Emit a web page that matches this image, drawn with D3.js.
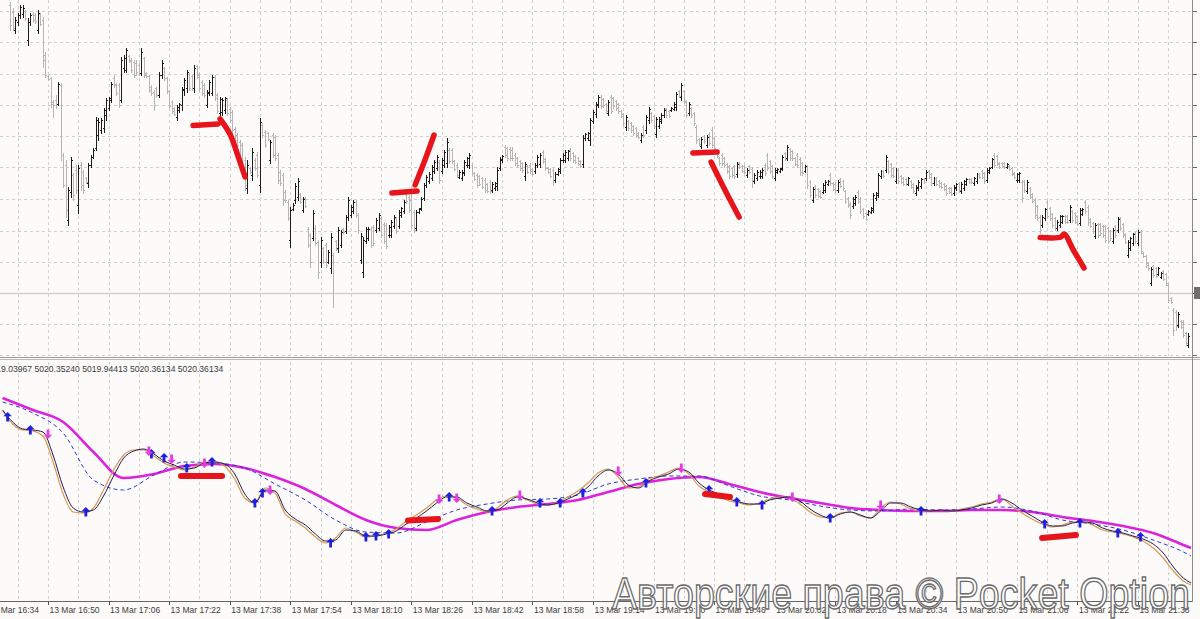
<!DOCTYPE html>
<html><head><meta charset="utf-8">
<script src="https://cdn.jsdelivr.net/npm/d3@7"></script>
<style>html,body{margin:0;padding:0;background:#fcfbfa;overflow:hidden}svg{display:block}</style>
</head><body><svg id="c" width="1200" height="619"></svg>
<script>
// ---------- DATA ----------
const FIRST_BAR = 3; // index of first bar in the arrays below
const opens = [5023.95,5023.88,5023.70,5023.78,5023.85,5023.86,5023.89,5023.60,5023.78,5023.86,5023.85,5023.70,5023.86,5023.80,5023.45,5023.24,5023.22,5022.98,5023.00,5022.96,5023.15,5022.45,5022.35,5021.80,5022.08,5022.25,5022.30,5021.95,5022.35,5022.28,5022.22,5022.17,5022.35,5022.43,5022.52,5022.65,5022.70,5022.72,5022.85,5022.92,5023.00,5023.22,5023.16,5023.15,5023.00,5023.32,5023.30,5023.44,5023.40,5023.38,5023.37,5023.35,5023.27,5023.42,5023.27,5023.24,5023.13,5023.08,5023.12,5023.05,5023.25,5023.32,5023.22,5023.09,5022.98,5022.92,5022.83,5022.90,5022.95,5023.10,5023.12,5023.26,5023.24,5023.12,5023.34,5023.25,5023.18,5023.15,5022.95,5023.07,5023.07,5023.23,5023.05,5022.87,5022.88,5022.90,5023.00,5022.91,5022.88,5022.71,5022.65,5022.58,5022.55,5022.40,5022.12,5022.32,5022.25,5022.40,5022.45,5022.15,5022.75,5022.68,5022.67,5022.40,5022.65,5022.63,5022.45,5022.28,5022.25,5022.08,5021.98,5021.60,5021.91,5022.00,5022.03,5022.06,5021.90,5022.02,5021.71,5021.65,5021.62,5021.72,5021.58,5021.38,5021.52,5021.55,5021.38,5021.32,5021.45,5021.59,5021.52,5021.55,5021.71,5021.69,5021.83,5021.85,5021.89,5021.98,5021.85,5021.40,5021.28,5021.59,5021.62,5021.71,5021.73,5021.70,5021.72,5021.82,5021.76,5021.75,5021.65,5021.65,5021.74,5021.82,
5021.74,5021.85,5021.89,5022.06,5022.03,5022.00,5021.88,5021.72,5021.88,5021.92,5022.02,5022.15,5022.19,5022.22,5022.29,5022.32,5022.38,5022.29,5022.35,5022.37,5022.50,5022.50,5022.39,5022.35,5022.23,5022.22,5022.27,5022.35,5022.35,5022.35,5022.27,5022.25,5022.24,5022.22,5022.20,5022.16,5022.18,5022.10,5022.12,5022.14,5022.32,5022.40,5022.53,5022.52,5022.51,5022.50,5022.45,5022.42,5022.39,5022.37,5022.24,5022.34,5022.35,5022.31,5022.29,5022.35,5022.36,5022.48,5022.41,5022.32,5022.31,5022.30,5022.20,5022.26,5022.29,5022.40,5022.40,5022.42,5022.50,5022.47,5022.44,5022.42,5022.39,5022.36,5022.62,5022.62,5022.60,5022.79,5022.86,5022.95,5023.03,5023.01,5022.96,5022.87,5023.03,5023.02,5022.99,5022.96,5022.89,5022.86,5022.73,5022.79,5022.77,5022.74,5022.72,5022.67,5022.60,5022.73,5022.70,5022.80,5022.87,5022.84,5022.66,5022.74,5022.79,5022.85,5022.91,5022.89,5022.90,5022.91,5022.93,5023.09,5023.03,5023.09,5022.98,5022.87,5022.92,5022.87,5022.73,5022.61,5022.54,5022.64,5022.55,5022.66,5022.70,5022.62,5022.49,5022.42,5022.45,5022.42,5022.36,5022.34,5022.32,5022.34,5022.26,5022.37,5022.34,5022.34,5022.25,5022.34,5022.31,5022.19,5022.22,5022.24,5022.24,5022.35,5022.45,5022.39,5022.34,5022.22,5022.28,5022.29,5022.32,5022.47,5022.42,5022.51,5022.49,5022.42,5022.45,
5022.41,5022.37,5022.29,5022.33,5022.18,5022.00,5022.14,5022.11,5022.09,5022.08,5022.10,5022.16,5022.25,5022.17,5022.16,5022.10,5022.21,5022.19,5022.09,5022.02,5021.96,5021.94,5021.97,5022.08,5022.01,5021.91,5021.87,5021.86,5021.88,5021.90,5022.02,5022.05,5022.24,5022.29,5022.30,5022.39,5022.36,5022.32,5022.19,5022.30,5022.24,5022.22,5022.21,5022.16,5022.19,5022.16,5022.07,5022.12,5022.14,5022.21,5022.22,5022.29,5022.26,5022.17,5022.22,5022.19,5022.17,5022.16,5022.14,5022.12,5022.12,5022.07,5022.12,5022.17,5022.09,5022.12,5022.16,5022.21,5022.21,5022.17,5022.19,5022.26,5022.29,5022.27,5022.20,5022.28,5022.33,5022.45,5022.44,5022.37,5022.37,5022.37,5022.33,5022.34,5022.32,5022.27,5022.20,5022.20,5022.18,5022.19,5022.09,5022.12,5022.06,5022.00,5021.94,5021.83,5021.75,5021.82,5021.98,5021.92,5021.86,5021.82,5021.72,5021.75,5021.78,5021.84,5021.84,5021.80,5021.89,5021.87,5021.84,5021.77,5021.86,5021.98,5021.93,5021.81,5021.77,5021.64,5021.76,5021.76,5021.74,5021.74,5021.72,5021.69,5021.59,5021.74,5021.70,5021.82,5021.76,5021.66,5021.45,5021.52,5021.57,5021.67,5021.57,5021.68,5021.47,5021.44,5021.37,5021.17,5021.34,5021.32,5021.26,5021.23,5021.29,5021.26,5021.15,5021.02,5020.90,5020.88,5020.75,5020.79,5020.78,5020.67,5020.55];
const highs = [5023.98,5023.92,5023.83,5023.87,5023.95,5023.95,5023.90,5023.82,5023.87,5023.88,5023.87,5023.90,5023.87,5023.83,5023.48,5023.25,5023.23,5023.00,5023.05,5023.18,5023.17,5022.47,5022.40,5022.13,5022.43,5022.27,5022.35,5022.35,5022.38,5022.30,5022.23,5022.37,5022.45,5022.52,5022.83,5022.82,5022.82,5022.92,5023.02,5023.03,5023.18,5023.25,5023.17,5023.17,5023.43,5023.45,5023.52,5023.45,5023.42,5023.40,5023.40,5023.37,5023.52,5023.43,5023.28,5023.25,5023.15,5023.10,5023.13,5023.28,5023.40,5023.33,5023.23,5023.10,5023.00,5022.93,5022.95,5022.97,5023.13,5023.22,5023.30,5023.27,5023.25,5023.35,5023.35,5023.27,5023.20,5023.17,5023.10,5023.20,5023.25,5023.25,5023.07,5023.03,5023.02,5023.03,5023.02,5022.93,5022.90,5022.73,5022.67,5022.60,5022.57,5022.43,5022.40,5022.33,5022.52,5022.42,5022.48,5022.82,5022.77,5022.70,5022.68,5022.60,5022.67,5022.65,5022.47,5022.30,5022.27,5022.10,5022.00,5021.93,5021.97,5022.17,5022.22,5022.07,5022.03,5022.03,5021.73,5021.67,5021.90,5021.75,5021.60,5021.63,5021.53,5021.57,5021.50,5021.67,5021.47,5021.60,5021.73,5021.70,5021.72,5021.85,5022.03,5021.95,5022.00,5022.00,5021.87,5021.67,5021.63,5021.73,5021.73,5021.73,5021.75,5021.82,5021.87,5021.83,5021.78,5021.77,5021.75,5021.80,5021.85,5021.83,
5021.90,5021.93,5022.00,5022.07,5022.05,5022.07,5021.90,5021.90,5021.92,5022.03,5022.17,5022.25,5022.28,5022.35,5022.40,5022.45,5022.40,5022.42,5022.50,5022.62,5022.52,5022.52,5022.40,5022.37,5022.30,5022.30,5022.40,5022.43,5022.47,5022.37,5022.28,5022.27,5022.25,5022.23,5022.22,5022.17,5022.20,5022.18,5022.18,5022.33,5022.43,5022.45,5022.55,5022.53,5022.53,5022.53,5022.47,5022.43,5022.40,5022.38,5022.38,5022.35,5022.37,5022.32,5022.37,5022.45,5022.47,5022.50,5022.42,5022.33,5022.32,5022.32,5022.28,5022.32,5022.42,5022.47,5022.50,5022.50,5022.52,5022.48,5022.45,5022.43,5022.40,5022.65,5022.67,5022.68,5022.82,5022.90,5022.98,5023.05,5023.05,5023.02,5022.97,5023.00,5023.05,5023.03,5023.00,5022.97,5022.90,5022.87,5022.85,5022.80,5022.78,5022.75,5022.73,5022.68,5022.67,5022.75,5022.85,5022.93,5022.88,5022.85,5022.83,5022.83,5022.87,5022.92,5022.92,5022.90,5022.93,5022.98,5023.08,5023.10,5023.17,5023.10,5023.00,5022.98,5022.93,5022.88,5022.75,5022.62,5022.63,5022.65,5022.65,5022.68,5022.73,5022.63,5022.50,5022.43,5022.47,5022.43,5022.37,5022.35,5022.33,5022.35,5022.38,5022.38,5022.35,5022.35,5022.32,5022.35,5022.33,5022.27,5022.30,5022.30,5022.32,5022.37,5022.47,5022.40,5022.35,5022.32,5022.32,5022.32,5022.45,5022.48,5022.55,5022.52,5022.50,5022.43,5022.47,
5022.43,5022.38,5022.35,5022.35,5022.20,5022.13,5022.15,5022.12,5022.10,5022.17,5022.20,5022.20,5022.27,5022.18,5022.17,5022.20,5022.22,5022.20,5022.10,5022.03,5021.98,5022.03,5022.05,5022.10,5022.03,5021.92,5021.88,5021.90,5021.93,5022.07,5022.08,5022.27,5022.30,5022.30,5022.45,5022.40,5022.37,5022.33,5022.32,5022.32,5022.25,5022.23,5022.22,5022.23,5022.20,5022.17,5022.15,5022.20,5022.22,5022.22,5022.30,5022.30,5022.27,5022.23,5022.23,5022.20,5022.18,5022.17,5022.15,5022.13,5022.13,5022.15,5022.17,5022.18,5022.18,5022.20,5022.22,5022.22,5022.22,5022.23,5022.27,5022.27,5022.30,5022.28,5022.32,5022.33,5022.42,5022.47,5022.45,5022.38,5022.38,5022.38,5022.37,5022.35,5022.33,5022.28,5022.27,5022.28,5022.20,5022.20,5022.20,5022.13,5022.07,5022.02,5021.95,5021.85,5021.85,5021.92,5022.00,5021.93,5021.87,5021.83,5021.80,5021.85,5021.85,5021.85,5021.85,5021.95,5021.90,5021.88,5021.85,5021.92,5021.92,5022.00,5021.95,5021.82,5021.78,5021.77,5021.77,5021.77,5021.75,5021.75,5021.73,5021.70,5021.72,5021.75,5021.83,5021.83,5021.77,5021.67,5021.60,5021.63,5021.67,5021.68,5021.70,5021.70,5021.48,5021.45,5021.38,5021.33,5021.35,5021.33,5021.33,5021.28,5021.30,5021.27,5021.17,5021.03,5020.92,5020.90,5020.88,5020.80,5020.80,5020.68,5020.67];
const lows = [5023.70,5023.70,5023.67,5023.75,5023.82,5023.83,5023.80,5023.55,5023.75,5023.78,5023.77,5023.67,5023.75,5023.33,5023.23,5023.20,5022.93,5022.83,5022.92,5022.95,5022.40,5022.13,5021.83,5021.75,5022.03,5022.00,5022.07,5021.87,5022.10,5022.07,5022.17,5022.13,5022.33,5022.42,5022.50,5022.60,5022.67,5022.68,5022.80,5022.90,5022.98,5023.13,5023.05,5022.93,5022.98,5023.28,5023.28,5023.38,5023.28,5023.23,5023.25,5023.25,5023.25,5023.23,5023.23,5023.08,5023.05,5022.90,5023.03,5023.03,5023.22,5023.20,5023.07,5022.92,5022.87,5022.85,5022.80,5022.88,5022.90,5023.05,5023.08,5023.10,5023.10,5023.08,5023.22,5023.10,5023.05,5023.03,5022.93,5023.05,5023.05,5023.00,5022.87,5022.85,5022.85,5022.87,5022.85,5022.78,5022.67,5022.58,5022.53,5022.40,5022.33,5022.10,5022.07,5022.27,5022.20,5022.30,5022.23,5022.08,5022.63,5022.53,5022.60,5022.37,5022.43,5022.40,5022.17,5022.15,5021.95,5021.98,5021.80,5021.53,5021.90,5021.97,5022.00,5021.97,5021.88,5021.93,5021.53,5021.33,5021.60,5021.55,5021.22,5021.33,5021.37,5021.33,5021.37,5021.27,5020.93,5021.50,5021.48,5021.53,5021.67,5021.67,5021.80,5021.83,5021.87,5021.83,5021.67,5021.37,5021.23,5021.57,5021.60,5021.53,5021.55,5021.68,5021.70,5021.63,5021.57,5021.52,5021.63,5021.63,5021.72,5021.67,
5021.72,5021.83,5021.87,5021.97,5021.88,5021.73,5021.68,5021.70,5021.87,5021.90,5022.00,5022.13,5022.17,5022.20,5022.27,5022.30,5022.17,5022.27,5022.33,5022.33,5022.37,5022.37,5022.30,5022.23,5022.22,5022.20,5022.25,5022.33,5022.32,5022.25,5022.20,5022.13,5022.15,5022.12,5022.08,5022.08,5022.07,5022.08,5022.10,5022.10,5022.30,5022.38,5022.43,5022.40,5022.40,5022.40,5022.35,5022.33,5022.30,5022.28,5022.20,5022.27,5022.27,5022.25,5022.27,5022.33,5022.33,5022.37,5022.30,5022.27,5022.23,5022.15,5022.18,5022.25,5022.27,5022.38,5022.38,5022.40,5022.40,5022.38,5022.37,5022.35,5022.33,5022.33,5022.60,5022.60,5022.55,5022.77,5022.83,5022.93,5022.92,5022.93,5022.87,5022.85,5022.87,5022.92,5022.90,5022.87,5022.83,5022.75,5022.70,5022.70,5022.68,5022.65,5022.63,5022.62,5022.58,5022.63,5022.67,5022.77,5022.78,5022.72,5022.63,5022.72,5022.77,5022.83,5022.83,5022.83,5022.89,5022.90,5022.90,5023.03,5023.00,5022.97,5022.83,5022.85,5022.83,5022.75,5022.57,5022.55,5022.52,5022.57,5022.53,5022.55,5022.53,5022.50,5022.43,5022.35,5022.35,5022.33,5022.27,5022.22,5022.23,5022.22,5022.23,5022.32,5022.28,5022.27,5022.23,5022.27,5022.13,5022.17,5022.20,5022.22,5022.22,5022.25,5022.30,5022.27,5022.22,5022.20,5022.27,5022.28,5022.30,5022.40,5022.40,5022.40,5022.40,5022.35,5022.33,
5022.25,5022.25,5022.28,5022.12,5022.03,5021.98,5022.03,5022.03,5022.02,5022.07,5022.08,5022.15,5022.15,5022.10,5022.08,5022.08,5022.13,5022.10,5021.97,5021.93,5021.82,5021.92,5021.95,5021.97,5021.87,5021.82,5021.80,5021.85,5021.87,5021.88,5022.00,5022.03,5022.22,5022.23,5022.28,5022.27,5022.23,5022.23,5022.17,5022.17,5022.17,5022.15,5022.15,5022.15,5022.12,5022.07,5022.05,5022.10,5022.12,5022.17,5022.20,5022.22,5022.15,5022.15,5022.15,5022.13,5022.12,5022.10,5022.05,5022.07,5022.05,5022.05,5022.10,5022.08,5022.07,5022.10,5022.15,5022.17,5022.17,5022.15,5022.17,5022.22,5022.22,5022.17,5022.18,5022.27,5022.32,5022.33,5022.35,5022.32,5022.33,5022.32,5022.32,5022.30,5022.25,5022.22,5022.18,5022.18,5021.98,5022.08,5022.07,5022.02,5021.98,5021.82,5021.80,5021.67,5021.73,5021.80,5021.82,5021.80,5021.73,5021.70,5021.70,5021.73,5021.77,5021.77,5021.77,5021.78,5021.78,5021.77,5021.75,5021.75,5021.85,5021.87,5021.75,5021.73,5021.67,5021.62,5021.63,5021.65,5021.63,5021.58,5021.57,5021.60,5021.57,5021.63,5021.68,5021.70,5021.63,5021.57,5021.43,5021.50,5021.55,5021.57,5021.55,5021.47,5021.43,5021.33,5021.30,5021.15,5021.23,5021.23,5021.25,5021.22,5021.20,5021.15,5020.98,5020.97,5020.65,5020.70,5020.73,5020.72,5020.63,5020.55,5020.53];
const closes = [5023.75,5023.72,5023.80,5023.85,5023.93,5023.92,5023.82,5023.78,5023.85,5023.80,5023.79,5023.87,5023.76,5023.40,5023.25,5023.21,5022.96,5022.95,5022.96,5023.16,5022.45,5022.15,5021.90,5022.10,5022.40,5022.05,5022.10,5022.32,5022.15,5022.10,5022.18,5022.35,5022.43,5022.50,5022.80,5022.78,5022.80,5022.90,5023.00,5023.02,5023.16,5023.15,5023.07,5022.95,5023.40,5023.42,5023.50,5023.39,5023.30,5023.25,5023.28,5023.27,5023.48,5023.25,5023.24,5023.10,5023.07,5022.95,5023.05,5023.25,5023.37,5023.22,5023.09,5022.94,5022.89,5022.86,5022.93,5022.96,5023.11,5023.20,5023.28,5023.12,5023.12,5023.32,5023.23,5023.12,5023.07,5023.05,5023.08,5023.18,5023.23,5023.02,5022.89,5023.01,5023.00,5023.02,5022.87,5022.80,5022.70,5022.60,5022.55,5022.42,5022.35,5022.15,5022.35,5022.28,5022.48,5022.32,5022.25,5022.78,5022.65,5022.55,5022.61,5022.58,5022.45,5022.42,5022.20,5022.17,5022.00,5022.00,5021.82,5021.90,5021.95,5022.14,5022.19,5021.98,5022.01,5021.94,5021.55,5021.38,5021.87,5021.57,5021.28,5021.60,5021.38,5021.35,5021.48,5021.63,5021.38,5021.51,5021.70,5021.68,5021.68,5021.83,5022.00,5021.93,5021.98,5021.85,5021.70,5021.64,5021.60,5021.71,5021.71,5021.55,5021.57,5021.80,5021.85,5021.65,5021.59,5021.54,5021.73,5021.78,5021.83,5021.69,
5021.88,5021.92,5021.98,5021.99,5021.90,5021.75,5021.70,5021.88,5021.91,5022.01,5022.15,5022.23,5022.26,5022.33,5022.38,5022.43,5022.20,5022.40,5022.48,5022.58,5022.39,5022.39,5022.31,5022.25,5022.28,5022.28,5022.38,5022.42,5022.45,5022.27,5022.21,5022.15,5022.16,5022.13,5022.10,5022.09,5022.09,5022.16,5022.17,5022.30,5022.41,5022.44,5022.45,5022.42,5022.42,5022.42,5022.37,5022.35,5022.32,5022.30,5022.36,5022.28,5022.29,5022.26,5022.35,5022.43,5022.45,5022.39,5022.32,5022.28,5022.24,5022.20,5022.26,5022.31,5022.40,5022.45,5022.48,5022.49,5022.42,5022.40,5022.38,5022.36,5022.34,5022.62,5022.66,5022.67,5022.80,5022.88,5022.96,5023.03,5022.94,5022.95,5022.89,5022.98,5022.89,5022.94,5022.92,5022.89,5022.84,5022.77,5022.83,5022.72,5022.70,5022.67,5022.65,5022.63,5022.65,5022.65,5022.83,5022.91,5022.80,5022.74,5022.81,5022.81,5022.85,5022.90,5022.85,5022.84,5022.92,5022.96,5023.06,5023.04,5023.15,5022.99,5022.85,5022.96,5022.85,5022.77,5022.60,5022.56,5022.61,5022.59,5022.63,5022.57,5022.55,5022.52,5022.44,5022.37,5022.37,5022.35,5022.29,5022.24,5022.25,5022.24,5022.36,5022.33,5022.29,5022.28,5022.30,5022.28,5022.20,5022.25,5022.28,5022.28,5022.30,5022.27,5022.32,5022.29,5022.24,5022.30,5022.31,5022.31,5022.43,5022.41,5022.53,5022.42,5022.42,5022.36,5022.35,
5022.28,5022.27,5022.34,5022.15,5022.05,5022.11,5022.05,5022.04,5022.03,5022.15,5022.18,5022.19,5022.17,5022.11,5022.10,5022.18,5022.14,5022.12,5021.99,5021.95,5021.85,5022.01,5022.03,5021.99,5021.89,5021.84,5021.81,5021.89,5021.92,5022.05,5022.07,5022.25,5022.29,5022.24,5022.43,5022.29,5022.25,5022.24,5022.30,5022.19,5022.18,5022.16,5022.16,5022.22,5022.13,5022.09,5022.13,5022.18,5022.21,5022.18,5022.28,5022.23,5022.17,5022.22,5022.16,5022.14,5022.13,5022.11,5022.07,5022.08,5022.06,5022.13,5022.16,5022.10,5022.16,5022.19,5022.21,5022.18,5022.18,5022.22,5022.26,5022.23,5022.23,5022.19,5022.30,5022.32,5022.41,5022.35,5022.36,5022.33,5022.34,5022.33,5022.36,5022.31,5022.26,5022.23,5022.26,5022.27,5022.02,5022.10,5022.18,5022.03,5021.99,5021.85,5021.82,5021.70,5021.83,5021.91,5021.84,5021.82,5021.75,5021.72,5021.78,5021.84,5021.84,5021.78,5021.78,5021.93,5021.80,5021.78,5021.76,5021.90,5021.91,5021.89,5021.78,5021.74,5021.69,5021.75,5021.65,5021.67,5021.65,5021.60,5021.59,5021.62,5021.70,5021.65,5021.81,5021.72,5021.65,5021.58,5021.58,5021.62,5021.66,5021.59,5021.68,5021.49,5021.44,5021.35,5021.32,5021.31,5021.25,5021.24,5021.32,5021.27,5021.21,5021.17,5021.00,5020.98,5020.70,5020.74,5020.86,5020.73,5020.65,5020.57,5020.64];

const priceGrid = [5023.89,5023.58,5023.26,5022.95,5022.64,5022.33,5022.01,5021.69,5021.38,5021.07,5020.76,5020.45];
const bidPrice = 5021.07;
const timeLabels = ["13 Mar 16:34","13 Mar 16:50","13 Mar 17:06","13 Mar 17:22","13 Mar 17:38","13 Mar 17:54","13 Mar 18:10","13 Mar 18:26","13 Mar 18:42","13 Mar 18:58","13 Mar 19:14","13 Mar 19:30","13 Mar 19:46","13 Mar 20:02","13 Mar 20:18","13 Mar 20:34","13 Mar 20:50","13 Mar 21:06","13 Mar 21:22","13 Mar 21:38"];
const headerText = "5019.03967 5020.35240 5019.94413 5020.36134 5020.36134";

// indicator sub-window: fast lines sampled every 4 bars (+ last bar), slow lines every 12 bars (+ last bar)
const fastBlack = [5020.90,5020.78,5020.71,5020.70,5020.68,5020.45,5020.13,5019.92,5019.88,5019.90,5020.04,5020.24,5020.42,5020.49,5020.51,5020.46,5020.39,5020.35,5020.31,5020.32,5020.37,5020.38,5020.36,5020.26,5020.06,5019.97,5020.10,5020.09,5019.90,5019.81,5019.75,5019.66,5019.59,5019.60,5019.70,5019.69,5019.64,5019.64,5019.66,5019.69,5019.76,5019.82,5019.89,5019.97,5020.03,5020.03,5019.97,5019.93,5019.89,5019.90,5019.97,5020.03,5020.01,5019.97,5019.95,5019.97,5020.01,5020.06,5020.13,5020.24,5020.30,5020.26,5020.15,5020.12,5020.19,5020.23,5020.26,5020.31,5020.28,5020.17,5020.10,5020.06,5020.01,5019.98,5019.96,5019.96,5020.00,5020.02,5020.03,5019.99,5019.91,5019.85,5019.82,5019.86,5019.88,5019.85,5019.82,5019.89,5019.97,5019.97,5019.93,5019.90,5019.89,5019.90,5019.89,5019.90,5019.92,5019.95,5019.97,5020.01,5019.97,5019.90,5019.84,5019.78,5019.74,5019.74,5019.77,5019.78,5019.77,5019.72,5019.69,5019.67,5019.64,5019.61,5019.56,5019.47,5019.33,5019.22,5019.17];
const fastOrange = [5020.89,5020.76,5020.70,5020.69,5020.64,5020.38,5020.06,5019.88,5019.87,5019.92,5020.10,5020.30,5020.45,5020.50,5020.50,5020.44,5020.37,5020.33,5020.30,5020.33,5020.38,5020.38,5020.34,5020.21,5020.02,5019.97,5020.12,5020.07,5019.86,5019.79,5019.72,5019.63,5019.57,5019.62,5019.72,5019.68,5019.63,5019.64,5019.67,5019.71,5019.79,5019.85,5019.92,5020.00,5020.04,5020.02,5019.95,5019.91,5019.88,5019.92,5020.00,5020.04,5020.00,5019.96,5019.95,5019.98,5020.03,5020.09,5020.17,5020.27,5020.31,5020.23,5020.12,5020.13,5020.21,5020.24,5020.28,5020.32,5020.26,5020.14,5020.08,5020.04,5019.99,5019.97,5019.95,5019.97,5020.01,5020.03,5020.02,5019.96,5019.88,5019.83,5019.82,5019.87,5019.88,5019.84,5019.82,5019.92,5019.98,5019.96,5019.91,5019.89,5019.89,5019.90,5019.89,5019.91,5019.93,5019.96,5019.98,5020.01,5019.94,5019.87,5019.81,5019.76,5019.73,5019.75,5019.78,5019.78,5019.75,5019.70,5019.68,5019.66,5019.63,5019.59,5019.52,5019.42,5019.29,5019.19,5019.15];
const dashedBlue = [5020.98,5020.87,5020.67,5020.20,5020.10,5020.25,5020.38,5020.37,5020.32,5020.16,5020.00,5019.80,5019.68,5019.67,5019.78,5019.90,5019.96,5020.00,5020.01,5020.05,5020.16,5020.21,5020.24,5020.24,5020.14,5020.04,5020.00,5019.94,5019.90,5019.89,5019.91,5019.90,5019.91,5019.93,5019.89,5019.80,5019.76,5019.70,5019.60,5019.48,5019.44];
const magentaLine = [5021.02,5020.90,5020.78,5020.48,5020.22,5020.26,5020.34,5020.36,5020.32,5020.23,5020.11,5019.95,5019.80,5019.72,5019.70,5019.80,5019.88,5019.93,5019.96,5020.00,5020.08,5020.16,5020.21,5020.23,5020.16,5020.08,5020.02,5019.97,5019.92,5019.90,5019.89,5019.89,5019.90,5019.90,5019.88,5019.83,5019.79,5019.74,5019.67,5019.55,5019.52];
const upArrowIdx = [2,11,33,59,64,73,83,100,103,130,144,148,153,177,194,213,221,230,255,280,291,301,328,364,413,427,442,451];
const upArrowVal = [5020.83,5020.70,5019.88,5020.46,5020.42,5020.32,5020.38,5019.97,5020.07,5019.57,5019.63,5019.64,5019.66,5020.03,5019.89,5019.97,5019.97,5020.07,5020.17,5020.10,5019.98,5019.95,5019.82,5019.89,5019.76,5019.77,5019.67,5019.63];
const dnArrowIdx = [18,58,67,80,106,173,180,205,244,269,313,348,395];
const dnArrowVal = [5020.66,5020.49,5020.41,5020.37,5020.10,5020.01,5020.02,5020.05,5020.29,5020.32,5020.03,5019.95,5020.01];

// hand-drawn red marks, [bar index, price]
const mainMarks = [
  [[75.5,5022.745],[85.4,5022.76]],
  [[86.2,5022.81],[90.1,5022.66],[93.3,5022.44],[96.1,5022.23]],
  [[154.3,5022.07],[164.3,5022.09]],
  [[163.5,5022.15],[167.4,5022.40],[171,5022.65]],
  [[273.6,5022.47],[283.2,5022.48]],
  [[280.8,5022.38],[286.3,5022.10],[291.9,5021.83]],
  [[411.2,5021.625],[419.5,5021.63],[420.7,5021.66],[424.6,5021.49],[428.6,5021.32]]
];
const subMarks = [
  [[70.7,5020.24],[87,5020.24]],
  [[160.7,5019.795],[172.6,5019.81]],
  [[278.4,5020.06],[288.3,5020.03]],
  [[412,5019.62],[425.4,5019.65]]
];

// ---------- CHART ----------
const svg = d3.select("#c");
const W = 1200, RIGHT = 1192;
const x = d3.scaleLinear().domain([18, 450]).range([48, 1138]);
const yMain = d3.scaleLinear().domain([5020, 5024]).range([400, 0]);
const ySub = d3.scaleLinear().domain([5019, 5021.4]).range([600, 360]);

svg.append("rect").attr("width", W).attr("height", 619).attr("fill", "#fcfbfa");
const defs = svg.append("defs");
defs.append("clipPath").attr("id", "cm").append("rect").attr("x", 0).attr("y", 0).attr("width", RIGHT).attr("height", 356);
defs.append("clipPath").attr("id", "cs").append("rect").attr("x", 0).attr("y", 361).attr("width", RIGHT).attr("height", 240);

const gridColor = "#d3cfcf";
const vIdx = d3.range(6, 472, 12);
// vertical grid
svg.append("g").selectAll("line").data(vIdx).join("line")
  .attr("x1", d => Math.round(x(d)) + 0.5).attr("x2", d => Math.round(x(d)) + 0.5)
  .attr("y1", 0).attr("y2", 356).attr("stroke", gridColor).attr("stroke-dasharray", "3,3");
svg.append("g").selectAll("line").data(vIdx).join("line")
  .attr("x1", d => Math.round(x(d)) + 0.5).attr("x2", d => Math.round(x(d)) + 0.5)
  .attr("y1", 362).attr("y2", 601).attr("stroke", gridColor).attr("stroke-dasharray", "3,3");
// horizontal grid
svg.append("g").selectAll("line").data(priceGrid).join("line")
  .attr("x1", 0).attr("x2", RIGHT).attr("y1", d => Math.round(yMain(d)) + 0.5).attr("y2", d => Math.round(yMain(d)) + 0.5)
  .attr("stroke", gridColor).attr("stroke-dasharray", "3,3");
// bid line
svg.append("line").attr("x1", 0).attr("x2", RIGHT).attr("y1", Math.round(yMain(bidPrice)) + 0.5).attr("y2", Math.round(yMain(bidPrice)) + 0.5)
  .attr("stroke", "#d4d0d0").attr("stroke-width", 1.5);

// OHLC bars
const bars = highs.map((h, k) => ({i: k + FIRST_BAR, o: opens[k], h, l: lows[k], c: closes[k]}));
svg.append("g").attr("clip-path", "url(#cm)").selectAll("path").data(bars).join("path")
  .attr("d", b => {
    const xi = Math.round(x(b.i)) + 0.5;
    const yh = Math.round(yMain(b.h)), yl = Math.round(yMain(b.l)) + 1;
    const yo = Math.round(yMain(b.o)) + 0.5, yc = Math.round(yMain(b.c)) + 0.5;
    return `M${xi},${yh}V${yl}M${xi - 1.5},${yo}H${xi}M${xi},${yc}H${xi + 1.5}`;
  })
  .attr("fill", "none").attr("stroke", b => b.c >= b.o ? "#1c1c1c" : "#b5b5b5").attr("stroke-width", 1)
  .attr("shape-rendering", "crispEdges");

// red marks main
const lineMain = d3.line().x(d => x(d[0])).y(d => yMain(d[1])).curve(d3.curveCatmullRom);
svg.append("g").selectAll("path").data(mainMarks).join("path")
  .attr("d", lineMain).attr("fill", "none").attr("stroke", "#e8141c").attr("stroke-width", 5.5)
  .attr("stroke-linecap", "round").attr("stroke-linejoin", "round");

// panel separator
svg.append("line").attr("x1", 0).attr("x2", W).attr("y1", 357.5).attr("y2", 357.5).attr("stroke", "#9c9c9c");
svg.append("line").attr("x1", 0).attr("x2", W).attr("y1", 359.5).attr("y2", 359.5).attr("stroke", "#b8b8b8");

// sub window lines
const sub = svg.append("g").attr("clip-path", "url(#cs)");
const fastIdx = d3.range(0, 472, 4).concat([471]);
const slowIdx = d3.range(0, 472, 12).concat([471]);
const lineSub = d3.line().x(d => x(d[0])).y(d => ySub(d[1])).curve(d3.curveMonotoneX);
sub.append("path").attr("d", lineSub(slowIdx.map((i, k) => [i, magentaLine[k]])))
  .attr("fill", "none").attr("stroke", "#dc22dc").attr("stroke-width", 2.6);
sub.append("path").attr("d", lineSub(slowIdx.map((i, k) => [i, dashedBlue[k]])))
  .attr("fill", "none").attr("stroke", "#2a3acb").attr("stroke-width", 1).attr("stroke-dasharray", "4,3");
sub.append("path").attr("d", lineSub(fastIdx.map((i, k) => [i, fastOrange[k]])))
  .attr("fill", "none").attr("stroke", "#d79650").attr("stroke-width", 1.2);
sub.append("path").attr("d", lineSub(fastIdx.map((i, k) => [i, fastBlack[k]])))
  .attr("fill", "none").attr("stroke", "#1d1d55").attr("stroke-width", 1);

// arrows
const upPath = "M0,-5L4.2,-0.8L1.4,-0.8L1.4,4.5L-1.4,4.5L-1.4,-0.8L-4.2,-0.8Z";
const dnPath = "M0,5L4.2,0.8L1.4,0.8L1.4,-4.5L-1.4,-4.5L-1.4,0.8L-4.2,0.8Z";
sub.append("g").selectAll("path").data(upArrowIdx.map((i, k) => [i, upArrowVal[k]])).join("path")
  .attr("d", upPath).attr("transform", d => `translate(${x(d[0])},${ySub(d[1])})`).attr("fill", "#1f1fe0");
sub.append("g").selectAll("path").data(dnArrowIdx.map((i, k) => [i, dnArrowVal[k]])).join("path")
  .attr("d", dnPath).attr("transform", d => `translate(${x(d[0])},${ySub(d[1])})`).attr("fill", "#e838e8");

// red marks sub
sub.append("g").selectAll("path").data(subMarks).join("path")
  .attr("d", d3.line().x(d => x(d[0])).y(d => ySub(d[1])))
  .attr("fill", "none").attr("stroke", "#e8141c").attr("stroke-width", 6).attr("stroke-linecap", "round");

// header text of sub window
const hdrFont = "8.6px 'Liberation Sans', Arial, sans-serif";
const tmp = svg.append("text").style("font", hdrFont).text("501");
const cut = tmp.node().getComputedTextLength(); tmp.remove();
svg.append("text").attr("x", 1 - cut).attr("y", 372).style("font", hdrFont).attr("fill", "#3a3a3a").text(headerText);

// right border + ticks
svg.append("line").attr("x1", RIGHT + 0.5).attr("x2", RIGHT + 0.5).attr("y1", 0).attr("y2", 602).attr("stroke", "#8c8c8c");
svg.append("g").selectAll("line").data(priceGrid).join("line")
  .attr("x1", RIGHT + 1).attr("x2", RIGHT + 5).attr("y1", d => Math.round(yMain(d)) + 0.5).attr("y2", d => Math.round(yMain(d)) + 0.5)
  .attr("stroke", "#666");
svg.append("rect").attr("x", RIGHT + 2).attr("y", Math.round(yMain(bidPrice)) - 6).attr("width", 8).attr("height", 12).attr("fill", "#6f6f6f");

// x axis
svg.append("line").attr("x1", 0).attr("x2", RIGHT).attr("y1", 601.5).attr("y2", 601.5).attr("stroke", "#666");
const labIdx = d3.range(-6, 460, 24);
const xa = svg.append("g");
xa.selectAll("line").data(labIdx).join("line")
  .attr("x1", d => Math.round(x(d)) + 0.5).attr("x2", d => Math.round(x(d)) + 0.5).attr("y1", 601).attr("y2", 605).attr("stroke", "#555");
xa.selectAll("text").data(labIdx).join("text")
  .attr("x", d => x(d) + 1.5).attr("y", 613).style("font", "8.5px 'Liberation Sans', Arial, sans-serif").attr("fill", "#3c3c3c")
  .text((d, k) => timeLabels[k]);

// watermark
svg.append("text").attr("x", 612).attr("y", 609)
  .attr("textLength", 578).attr("lengthAdjust", "spacingAndGlyphs")
  .style("font", "44px 'Liberation Sans', Arial, sans-serif")
  .attr("fill", "#ffffff").attr("fill-opacity", 0.92).attr("stroke", "#6a6a6a").attr("stroke-width", 1.4)
  .text("Авторские права © Pocket Option");
</script></body></html>
